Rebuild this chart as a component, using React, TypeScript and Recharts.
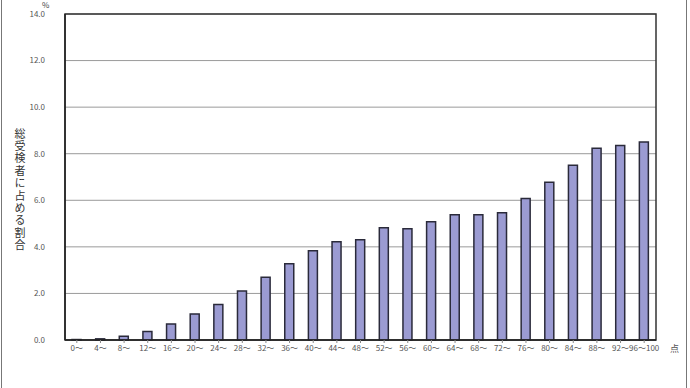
import { BarChart, Bar, XAxis, YAxis, CartesianGrid, ReferenceArea } from 'recharts';

// score bands (points) and share of all examinees (%)
const bands = [
  '0～', '4～', '8～', '12～', '16～', '20～', '24～', '28～', '32～', '36～',
  '40～', '44～', '48～', '52～', '56～', '60～', '64～', '68～', '72～', '76～',
  '80～', '84～', '88～', '92～', '96～100',
];
const shares = [
  0.02, 0.05, 0.16, 0.36, 0.69, 1.12, 1.52, 2.1, 2.7, 3.27,
  3.83, 4.22, 4.3, 4.82, 4.78, 5.08, 5.38, 5.38, 5.47, 6.08,
  6.77, 7.5, 8.23, 8.35, 8.5,
];
const yTicks = [0, 2, 4, 6, 8, 10, 12, 14];
const yLabel = '総受検者に占める割合';

const chartData = bands.map((band, i) => ({ band, share: shares[i] }));

const font = '"Noto Sans CJK JP", "Noto Sans", sans-serif';

const App = () => {
  return (
    <div style={{ position: 'absolute', left: 0, top: 0, width: 690, height: 388, background: '#fff', fontFamily: font }}>
      <BarChart
        width={690}
        height={388}
        data={chartData}
        margin={{ top: 14, right: 34, left: 0, bottom: 28 }}
        barCategoryGap={0}
      >
        <CartesianGrid vertical={false} stroke="#9a9a9a" strokeWidth={1} />
        <XAxis
          dataKey="band"
          interval={0}
          axisLine={{ stroke: '#222', strokeWidth: 1.5 }}
          tickLine={{ stroke: '#888' }}
          tickSize={3}
          height={20}
          tick={{ fill: '#555', fontSize: 8, fontFamily: font }}
        />
        <YAxis
          domain={[0, 14]}
          ticks={yTicks}
          width={65}
          axisLine={{ stroke: '#222', strokeWidth: 1.5 }}
          tickLine={false}
          tickMargin={14}
          tickFormatter={(v) => v.toFixed(1)}
          tick={{ fill: '#555', fontSize: 8, fontFamily: font }}
        />
        <ReferenceArea y1={0} y2={14} fill="none" stroke="#333" strokeWidth={1.5} ifOverflow="visible" />
        <Bar
          dataKey="share"
          fill="#9b9bd2"
          stroke="#2a2a3a"
          strokeWidth={1.5}
          barSize={9}
          isAnimationActive={false}
        />
      </BarChart>
      <div style={{ position: 'absolute', left: 42, top: 1, fontSize: 8, lineHeight: '8px', color: '#444' }}>%</div>
      <div style={{ position: 'absolute', left: 670, top: 342, fontSize: 9, color: '#555' }}>点</div>
      <div
        style={{
          position: 'absolute',
          left: 14,
          top: 128,
          writingMode: 'vertical-rl',
          textOrientation: 'upright',
          fontSize: 11,
          lineHeight: '12px',
          letterSpacing: 1.4,
          color: '#333',
        }}
      >
        {yLabel}
      </div>
      <div style={{ position: 'absolute', left: 1, top: 0, width: 1, height: 388, background: '#777' }} />
      <div style={{ position: 'absolute', left: 686, top: 0, width: 1, height: 388, background: '#777' }} />
    </div>
  );
};

export default App;
